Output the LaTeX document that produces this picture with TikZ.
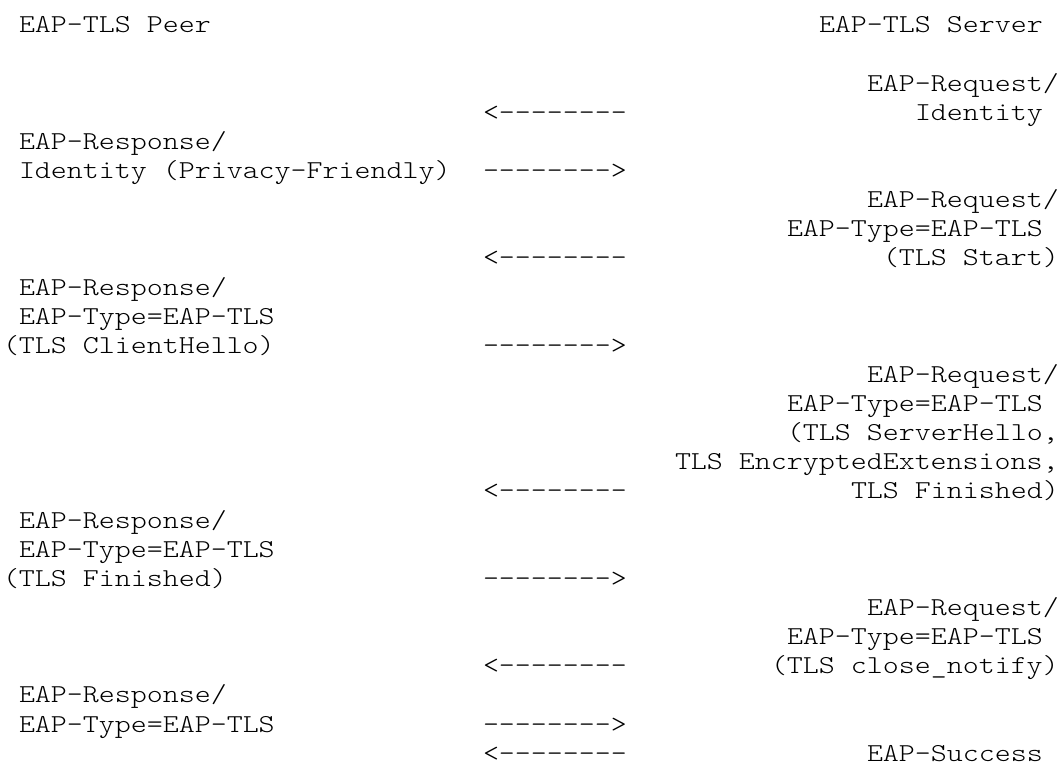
\documentclass[tikz,border=0pt]{standalone}
\usepackage{fontspec}
\newfontfamily\monofnt{lmmonolt10-regular.otf}[FakeStretch=1.18]
\newcommand\colx[1]{3+16*#1}
\newcommand\rowy[1]{32.9+29.13*#1}
\begin{document}
\begin{tikzpicture}[x=0.75pt,y=-0.75pt,
  t/.style={anchor=base west, inner sep=0pt, outer sep=0pt,
            font=\fontsize{19.35pt}{22pt}\monofnt}]
\useasboundingbox (0,0) rectangle (1060,766);
\fill[white] (0,0) rectangle (1060,766);
% header
\node[t] (peer)   at ({\colx{1}},{\rowy{0}})  {EAP-TLS Peer};
\node[t] (server) at ({\colx{51}},{\rowy{0}}) {EAP-TLS Server};
% identity request
\node[t] (req1)  at ({\colx{54}},{\rowy{2}}) {EAP-Request/};
\node[t] (a1)    at ({\colx{30}},{\rowy{3}}) {<--------};
\node[t] (req1b) at ({\colx{57}},{\rowy{3}}) {Identity};
% identity response
\node[t] (rsp1)  at ({\colx{1}},{\rowy{4}})  {EAP-Response/};
\node[t] (rsp1b) at ({\colx{1}},{\rowy{5}})  {Identity (Privacy-Friendly)};
\node[t] (a2)    at ({\colx{30}},{\rowy{5}}) {-------->};
% TLS start
\node[t] (req2)  at ({\colx{54}},{\rowy{6}}) {EAP-Request/};
\node[t] (req2b) at ({\colx{49}},{\rowy{7}}) {EAP-Type=EAP-TLS};
\node[t] (a3)    at ({\colx{30}},{\rowy{8}}) {<--------};
\node[t] (req2c) at ({\colx{55}},{\rowy{8}}) {(TLS Start)};
% client hello
\node[t] (rsp2)  at ({\colx{1}},{\rowy{9}})   {EAP-Response/};
\node[t] (rsp2b) at ({\colx{1}},{\rowy{10}})  {EAP-Type=EAP-TLS};
\node[t] (rsp2c) at ({\colx{0}},{\rowy{11}})  {(TLS ClientHello)};
\node[t] (a4)    at ({\colx{30}},{\rowy{11}}) {-------->};
% server hello
\node[t] (req3)  at ({\colx{54}},{\rowy{12}}) {EAP-Request/};
\node[t] (req3b) at ({\colx{49}},{\rowy{13}}) {EAP-Type=EAP-TLS};
\node[t] (req3c) at ({\colx{49}},{\rowy{14}}) {(TLS ServerHello,};
\node[t] (req3d) at ({\colx{42}},{\rowy{15}}) {TLS EncryptedExtensions,};
\node[t] (a5)    at ({\colx{30}},{\rowy{16}}) {<--------};
\node[t] (req3e) at ({\colx{53}},{\rowy{16}}) {TLS Finished)};
% client finished
\node[t] (rsp3)  at ({\colx{1}},{\rowy{17}})  {EAP-Response/};
\node[t] (rsp3b) at ({\colx{1}},{\rowy{18}})  {EAP-Type=EAP-TLS};
\node[t] (rsp3c) at ({\colx{0}},{\rowy{19}})  {(TLS Finished)};
\node[t] (a6)    at ({\colx{30}},{\rowy{19}}) {-------->};
% close notify
\node[t] (req4)  at ({\colx{54}},{\rowy{20}}) {EAP-Request/};
\node[t] (req4b) at ({\colx{49}},{\rowy{21}}) {EAP-Type=EAP-TLS};
\node[t] (a7)    at ({\colx{30}},{\rowy{22}}) {<--------};
\node[t] (req4c) at ({\colx{48}},{\rowy{22}}) {(TLS close\_notify)};
% final response
\node[t] (rsp4)  at ({\colx{1}},{\rowy{23}})  {EAP-Response/};
\node[t] (rsp4b) at ({\colx{1}},{\rowy{24}})  {EAP-Type=EAP-TLS};
\node[t] (a8)    at ({\colx{30}},{\rowy{24}}) {-------->};
% success
\node[t] (a9)    at ({\colx{30}},{\rowy{25}}) {<--------};
\node[t] (succ)  at ({\colx{54}},{\rowy{25}}) {EAP-Success};
\end{tikzpicture}
\end{document}
